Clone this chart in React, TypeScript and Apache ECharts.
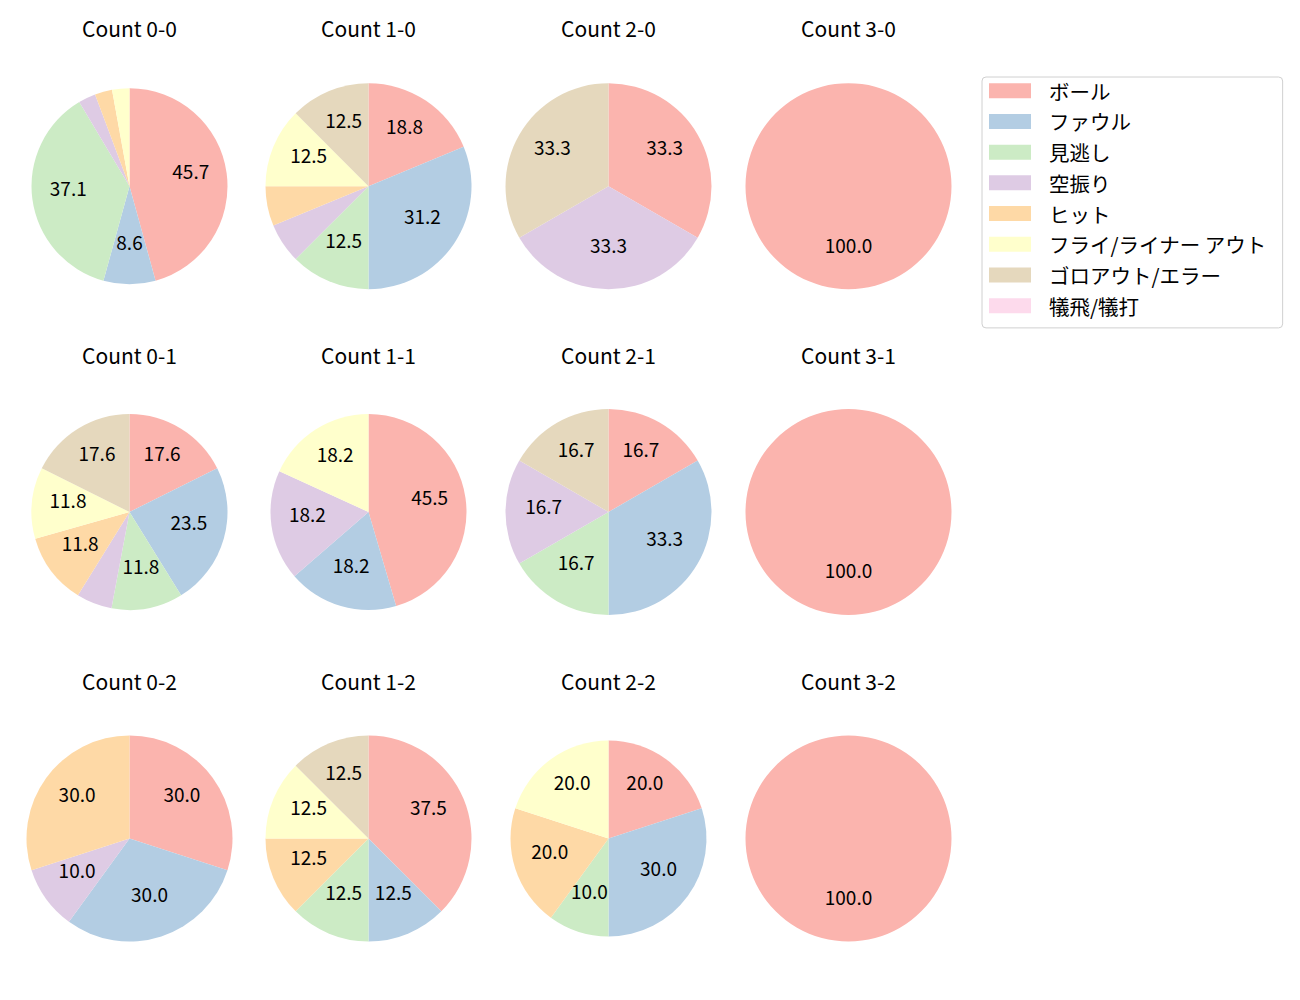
import React, { useEffect, useRef } from "react";
import * as echarts from "echarts";

// ---- data ----
const categories = [
  "ボール",
  "ファウル",
  "見逃し",
  "空振り",
  "ヒット",
  "フライ/ライナー アウト",
  "ゴロアウト/エラー",
  "犠飛/犠打",
];
const palette = ["#fbb4ae", "#b3cde3", "#ccebc5", "#decbe4", "#fed9a6", "#ffffcc", "#e5d8bd", "#fddaec"];

const balls = [0, 1, 2, 3];
const strikes = [0, 1, 2];

// counts per category (same order as categories)
const count00 = [16, 3, 13, 1, 1, 1, 0, 0];
const count10 = [3, 5, 2, 1, 1, 2, 2, 0];
const count20 = [1, 0, 0, 1, 0, 0, 1, 0];
const count30 = [1, 0, 0, 0, 0, 0, 0, 0];
const count01 = [3, 4, 2, 1, 2, 2, 3, 0];
const count11 = [5, 2, 0, 2, 0, 2, 0, 0];
const count21 = [1, 2, 1, 1, 0, 0, 1, 0];
const count31 = [1, 0, 0, 0, 0, 0, 0, 0];
const count02 = [3, 3, 0, 1, 3, 0, 0, 0];
const count12 = [3, 1, 1, 0, 1, 1, 1, 0];
const count22 = [2, 3, 1, 0, 2, 2, 0, 0];
const count32 = [1, 0, 0, 0, 0, 0, 0, 0];

const countsByStrike = [
  [count00, count10, count20, count30],
  [count01, count11, count21, count31],
  [count02, count12, count22, count32],
];

// ---- layout ----
const colX = [129.5, 368.5, 608.5, 848.5];
const rowY = [186.2, 512, 838.5];
const titleY = [28, 355, 681];
const radii = [
  [98, 103, 103, 103],
  [98, 98, 103, 103],
  [103, 103, 98, 103],
];
const FONT = "'Noto Sans CJK JP', 'Noto Sans', sans-serif";
const FS_LABEL = 19;
const FS_TITLE = 21;
const FS_LEGEND = 20.5;

function fmtPct(p: number): string {
  const x = p * 10;
  const f = Math.floor(x);
  const d = x - f;
  let n: number;
  if (Math.abs(d - 0.5) < 1e-9) n = f % 2 === 0 ? f : f + 1;
  else n = Math.round(x);
  return (n / 10).toFixed(1);
}

export default function App() {
  const ref = useRef<HTMLDivElement>(null);
  useEffect(() => {
    if (!ref.current) return;
    const chart = echarts.init(ref.current, null, { renderer: "svg" });
    const series: any[] = [];
    const graphics: any[] = [];
    strikes.forEach((s, ri) => {
      balls.forEach((b, ci) => {
        const vals = countsByStrike[ri][ci];
        const total = vals.reduce((a, v) => a + v, 0);
        const r = radii[ri][ci];
        const center = [colX[ci], rowY[ri]];
        series.push({
          type: "pie",
          center,
          radius: [0, r],
          startAngle: 90,
          clockwise: true,
          silent: true,
          stillShowZeroSum: false,
          label: { show: false },
          labelLine: { show: false },
          emphasis: { disabled: true },
          itemStyle: { borderWidth: 0 },
          data: vals.map((v, k) => ({
            name: categories[k],
            value: v,
            itemStyle: { color: palette[k] },
          })),
        });
        series.push({
          type: "pie",
          center,
          radius: [r * 0.2, r],
          startAngle: 90,
          clockwise: true,
          silent: true,
          avoidLabelOverlap: false,
          stillShowZeroSum: false,
          emphasis: { disabled: true },
          itemStyle: { color: "rgba(0,0,0,0)", borderWidth: 0 },
          labelLine: { show: false },
          label: {
            show: true,
            position: "inside",
            fontFamily: FONT,
            fontSize: FS_LABEL,
            color: "#000",
            formatter: (p: any) => {
              const pct = (p.value / total) * 100;
              return pct >= 7 ? `{v|${fmtPct(pct)}}\n{g| }` : "";
            },
            rich: {
              v: { fontFamily: FONT, fontSize: FS_LABEL, color: "#000", lineHeight: 20 },
              g: { fontSize: 1, lineHeight: 14, height: 14 },
            },
          },
          data: vals.map((v) => ({ value: v })),
        });
        graphics.push({
          type: "text",
          x: colX[ci],
          y: titleY[ri],
          style: {
            text: `Count ${b}-${s}`,
            fontFamily: FONT,
            fontSize: FS_TITLE,
            fill: "#000",
            align: "center",
            verticalAlign: "middle",
          },
        });
      });
    });
    chart.setOption({
      animation: false,
      backgroundColor: "#fff",
      legend: {
        orient: "vertical",
        left: 982,
        top: 77,
        padding: [3.5, 16, 12, 7],
        itemWidth: 42,
        itemHeight: 15,
        itemGap: 10.2,
        icon: "rect",
        selectedMode: false,
        borderColor: "#d0d0d0",
        borderWidth: 1,
        borderRadius: 4,
        textStyle: {
          fontFamily: FONT,
          fontSize: FS_LEGEND,
          color: "#000",
          lineHeight: 20,
          padding: [0, 0, 0, 13],
        },
        data: categories,
      },
      graphic: graphics,
      series,
    });
    return () => chart.dispose();
  }, []);
  return (
    <div
      ref={ref}
      style={{ position: "absolute", left: 0, top: 0, width: 1300, height: 1000 }}
    />
  );
}
